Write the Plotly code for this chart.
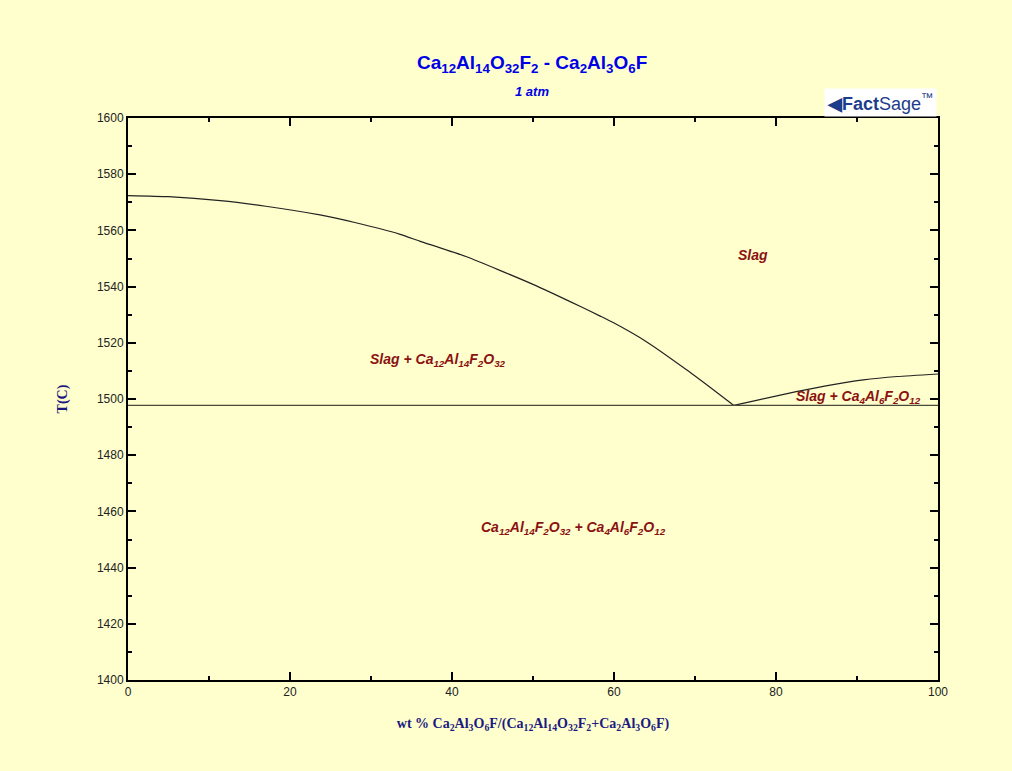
import plotly.graph_objects as go

# Data
liq1_x = [0, 5, 11.4, 17, 23.7, 28, 33.6, 36, 41.8, 50.0, 55.8, 58.3, 59.9, 64.0, 69.0, 72.3, 74.8]
liq1_T = [1572.4, 1572.0, 1570.6, 1568.6, 1565.5, 1562.8, 1558.6, 1556.2, 1550.6, 1540.8, 1533.0, 1529.5, 1527.2, 1520.4, 1510.3, 1503.2, 1497.7]
liq2_x = [74.8, 78, 82.5, 86, 90.8, 95, 100]
liq2_T = [1497.7, 1499.8, 1502.6, 1504.6, 1506.8, 1508.0, 1508.9]
eut_x = [0, 100]
eut_T = [1497.7, 1497.7]

labels = [
    (77.2, 1551.3, "Slag"),
    (38.3, 1514.0, "Slag + Ca<sub>12</sub>Al<sub>14</sub>F<sub>2</sub>O<sub>32</sub>"),
    (90.2, 1500.7, "Slag + Ca<sub>4</sub>Al<sub>6</sub>F<sub>2</sub>O<sub>12</sub>"),
    (55.0, 1454.0, "Ca<sub>12</sub>Al<sub>14</sub>F<sub>2</sub>O<sub>32</sub> + Ca<sub>4</sub>Al<sub>6</sub>F<sub>2</sub>O<sub>12</sub>"),
]

title_text = "<b>Ca<sub>12</sub>Al<sub>14</sub>O<sub>32</sub>F<sub>2</sub> - Ca<sub>2</sub>Al<sub>3</sub>O<sub>6</sub>F</b>"
subtitle_text = "<b><i>1 atm</i></b>"
xtitle_text = "<b>wt % Ca<sub>2</sub>Al<sub>3</sub>O<sub>6</sub>F/(Ca<sub>12</sub>Al<sub>14</sub>O<sub>32</sub>F<sub>2</sub>+Ca<sub>2</sub>Al<sub>3</sub>O<sub>6</sub>F)</b>"
ytitle_text = "<b>T(C)</b>"

bg = "#FFFFCE"
W, H = 1012, 771
pl, pr, pt, pb = 128, 938, 118, 680

def px(xp):
    return (xp - pl) / (pr - pl)

def py(yp):
    return (pb - yp) / (pb - pt)

fig = go.Figure()
fig.add_trace(go.Scatter(x=liq1_x, y=liq1_T, mode="lines",
                         line=dict(color="#222222", width=1.2, shape="spline", smoothing=0.5), hoverinfo="skip"))
fig.add_trace(go.Scatter(x=liq2_x, y=liq2_T, mode="lines",
                         line=dict(color="#222222", width=1.2, shape="spline", smoothing=0.5), hoverinfo="skip"))
fig.add_trace(go.Scatter(x=eut_x, y=eut_T, mode="lines",
                         line=dict(color="#4a4a3a", width=1.2), hoverinfo="skip"))

for x, y, t in labels:
    fig.add_annotation(x=x, y=y, xref="x", yref="y", text="<b><i>" + t + "</i></b>", showarrow=False,
                       font=dict(family="Liberation Sans, Arial", size=14, color="#8B1212"))

axis_common = dict(showline=True, linecolor="black", linewidth=2, mirror="ticks", ticks="inside",
                   ticklen=8, tickwidth=1.5, tickcolor="black", showgrid=False, zeroline=False,
                   tickfont=dict(family="Liberation Sans, Arial", size=12, color="#222222"))

fig.update_layout(
    width=W, height=H,
    paper_bgcolor=bg, plot_bgcolor=bg,
    margin=dict(l=pl, r=W - pr, t=pt, b=H - pb),
    showlegend=False,
    xaxis=dict(range=[0, 100], dtick=20, tick0=0,
               minor=dict(dtick=10, ticks="inside", ticklen=4, tickwidth=1.5, tickcolor="black"),
               title=dict(text=xtitle_text,
                          font=dict(family="Liberation Serif, Times New Roman", size=14, color="#1A1A80"), standoff=20),
               **axis_common),
    yaxis=dict(range=[1400, 1600], dtick=20, tick0=1400,
               minor=dict(dtick=10, ticks="inside", ticklen=4, tickwidth=1.5, tickcolor="black"),
               title=dict(text=ytitle_text,
                          font=dict(family="Liberation Serif, Times New Roman", size=14, color="#1A1A80"), standoff=26),
               **axis_common),
)

fig.add_annotation(x=px(532), y=py(64), xref="paper", yref="paper", xanchor="center", yanchor="middle",
                   text=title_text, showarrow=False,
                   font=dict(family="Liberation Sans, Arial", size=19, color="#0000E6"))
fig.add_annotation(x=px(532), y=py(91), xref="paper", yref="paper", xanchor="center", yanchor="middle",
                   text=subtitle_text, showarrow=False,
                   font=dict(family="Liberation Sans, Arial", size=13, color="#0000E6"))
# FactSage logo approximation
fig.add_annotation(x=px(880), y=py(103), xref="paper", yref="paper", xanchor="center", yanchor="middle",
                   text="<b>◀Fact</b>Sage<sup>™</sup>", showarrow=False, bgcolor="white",
                   font=dict(family="Liberation Sans, Arial", size=18, color="#1E3C8C"), borderpad=2)

fig.write_html("out.html")
